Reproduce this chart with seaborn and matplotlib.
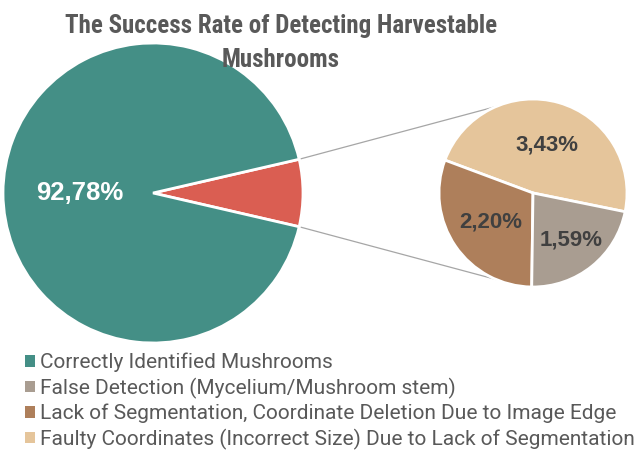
import numpy as np
import matplotlib
matplotlib.use("Agg")
import matplotlib.pyplot as plt
from matplotlib import font_manager
from matplotlib.patches import Patch
import seaborn as sns

# data
main_labels = ["Errors", "Correctly Identified Mushrooms"]
main_values = [7.22, 92.78]
sub_labels = ["Faulty Coordinates (Incorrect Size) Due to Lack of Segmentation",
              "Lack of Segmentation, Coordinate Deletion Due to Image Edge",
              "False Detection (Mycelium/Mushroom stem)"]
sub_values = [3.43, 2.20, 1.59]
legend_order = ["Correctly Identified Mushrooms",
                "False Detection (Mycelium/Mushroom stem)",
                "Lack of Segmentation, Coordinate Deletion Due to Image Edge",
                "Faulty Coordinates (Incorrect Size) Due to Lack of Segmentation"]

colors = {
    "Correctly Identified Mushrooms": "#448F86",
    "Errors": "#DA5E52",
    "False Detection (Mycelium/Mushroom stem)": "#A99D91",
    "Lack of Segmentation, Coordinate Deletion Due to Image Edge": "#AE7F5B",
    "Faulty Coordinates (Incorrect Size) Due to Lack of Segmentation": "#E5C59B",
}

sns.set_theme(style="white")
installed = {f.name for f in font_manager.fontManager.ttflist}
narrow = [f for f in ["Liberation Sans Narrow", "Roboto Condensed", "Open Sans Condensed",
                      "DejaVu Sans Condensed", "Liberation Sans"] if f in installed][0]
plt.rcParams['font.family'] = [narrow, 'DejaVu Sans']

def fmt(v):
    return f"{v:.2f}%".replace(".", ",")

fig = plt.figure(figsize=(6.36, 4.5), dpi=100)
ax = fig.add_axes([0, 0, 1, 1])

# main pie
c1, r1 = (153, 257), 150
half = main_values[0] / sum(main_values) * 360 / 2
w1, t1 = ax.pie(main_values, colors=[colors[l] for l in main_labels],
                startangle=-half, center=c1, radius=r1,
                labels=["", fmt(main_values[1])], labeldistance=0.49,
                wedgeprops=dict(edgecolor="white", linewidth=2),
                textprops=dict(family="Liberation Sans", fontsize=18.5,
                               fontweight="bold", color="white"))
for t in t1:
    t.set_ha("center")
    t.set_va("center")

# secondary pie
c2, r2 = (533, 257), 94
w2, t2 = ax.pie(sub_values, colors=[colors[l] for l in sub_labels],
                startangle=-11.5, center=c2, radius=r2,
                labels=[fmt(v) for v in sub_values], labeldistance=0.57,
                wedgeprops=dict(edgecolor="white", linewidth=2),
                textprops=dict(family="Liberation Sans", fontsize=16,
                               fontweight="bold", color="#404040"))
for w, t, d in zip(w2, t2, [0.53, 0.55, 0.64]):
    a = np.deg2rad((w.theta1 + w.theta2) / 2)
    t.set_position((c2[0] + d * r2 * np.cos(a), c2[1] + d * r2 * np.sin(a)))
    t.set_ha("center")
    t.set_va("center")

# connector lines
for sgn in (1, -1):
    a1 = np.deg2rad(sgn * half)
    a2 = np.deg2rad(sgn * 113)
    ax.plot([c1[0] + r1 * np.cos(a1), c2[0] + r2 * np.cos(a2)],
            [c1[1] + r1 * np.sin(a1), c2[1] + r2 * np.sin(a2)],
            color="#A6A6A6", linewidth=0.9, zorder=0)

ax.set_xlim(0, 636)
ax.set_ylim(0, 450)
ax.set_aspect("equal")
ax.axis("off")

fig.text(0.442, 0.97, "The Success Rate of Detecting Harvestable\nMushrooms",
         ha="center", va="top", fontsize=18, fontweight="bold",
         color="#595959", linespacing=1.55)

handles = [Patch(facecolor=colors[l], edgecolor="none") for l in legend_order]
fig.legend(handles, legend_order, loc="upper left", bbox_to_anchor=(0.039, 0.216),
           frameon=False, prop=dict(family="Roboto", size=15), labelcolor="#595959",
           handlelength=0.5, handleheight=0.5, handletextpad=0.25,
           labelspacing=0.25, borderpad=0, borderaxespad=0)

fig.savefig("out.png", dpi=100)
